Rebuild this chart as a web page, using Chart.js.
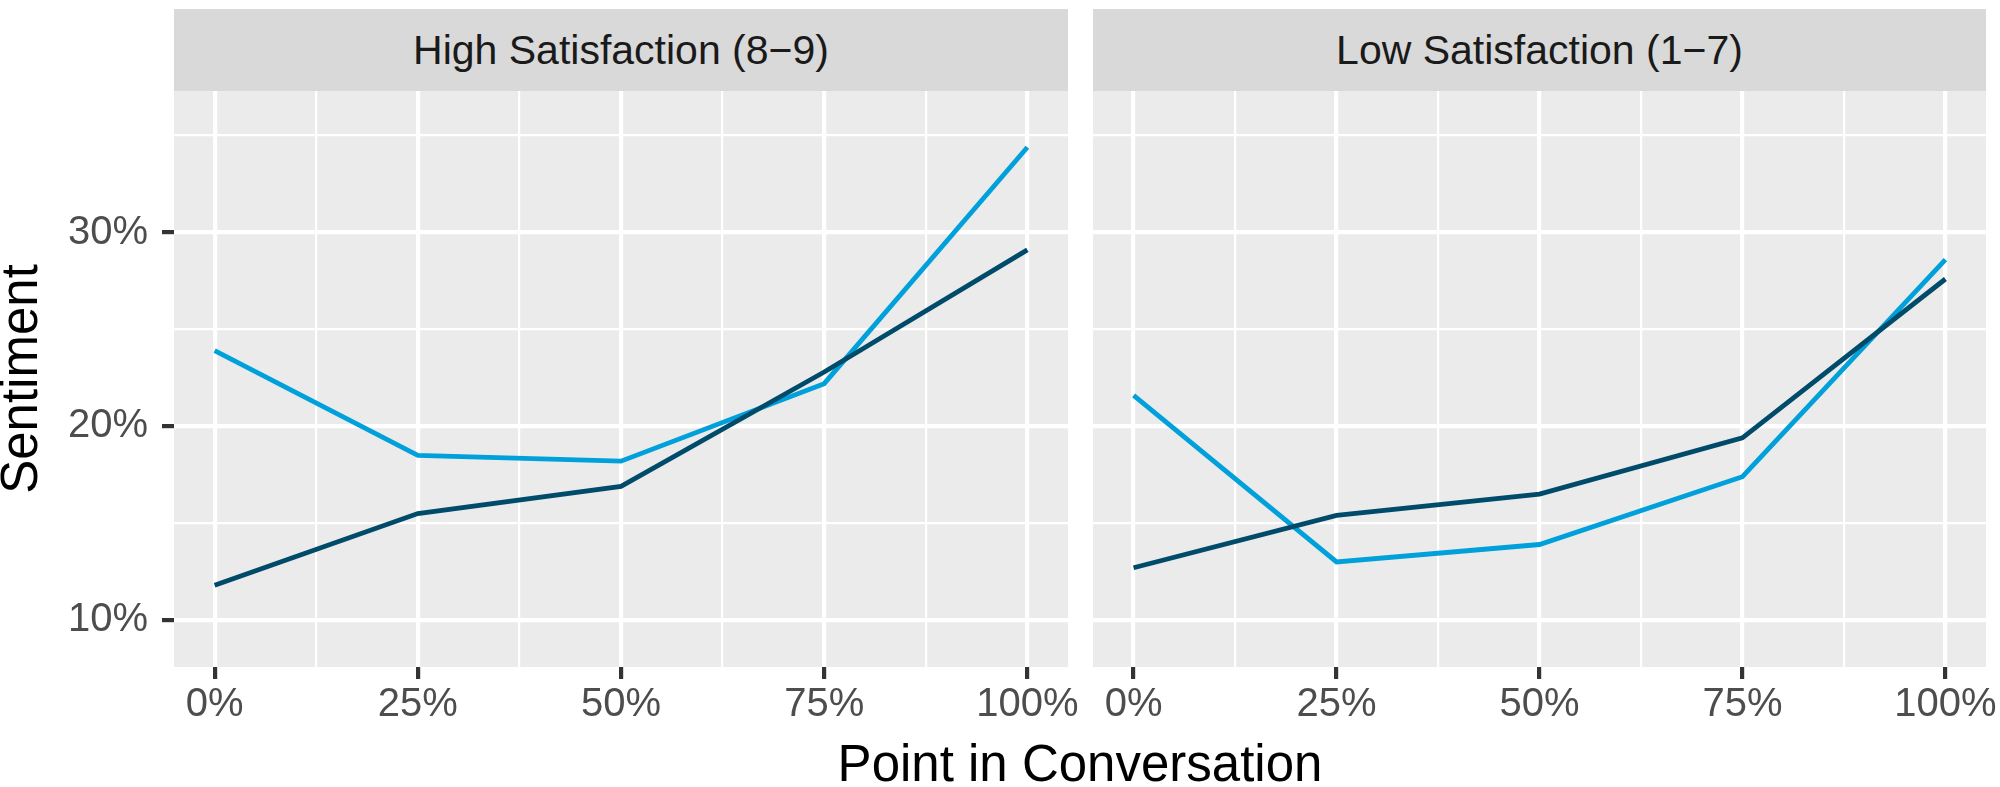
<!DOCTYPE html>
<html>
<head>
<meta charset="utf-8">
<script src="https://cdn.jsdelivr.net/npm/chart.js@4.4.1/dist/chart.umd.min.js"></script>
<style>
html,body{margin:0;padding:0;background:#fff;}
#wrap{position:relative;width:2000px;height:787px;overflow:hidden;font-family:"Liberation Sans",Arial,sans-serif;}
.strip{position:absolute;top:9px;height:82px;background:#D9D9D9;color:#1A1A1A;font-size:41px;display:flex;align-items:center;justify-content:center;}
canvas{position:absolute;}
#xtitle{position:absolute;left:174px;width:1812px;text-align:center;top:738px;font-size:51px;line-height:1;color:#000;}
</style>
</head>
<body>
<div id="wrap">
  <div class="strip" style="left:174px;width:894px;">High Satisfaction (8−9)</div>
  <div class="strip" style="left:1093px;width:893px;">Low Satisfaction (1−7)</div>
  <canvas id="left" width="1108" height="696" style="left:0;top:31px;"></canvas>
  <canvas id="right" width="917" height="696" style="left:1083px;top:31px;"></canvas>
  <div id="xtitle">Point in Conversation</div>
</div>
<script>
// ---- data ----
const categories = [0, 25, 50, 75, 100];            // point in conversation (%)
const highLight = [23.9, 18.5, 18.2, 22.2, 34.4];   // High Satisfaction, light blue series
const highDark  = [11.8, 15.5, 16.9, 22.8, 29.1];   // High Satisfaction, dark series
const lowLight  = [21.6, 13.0, 13.9, 17.4, 28.6];   // Low Satisfaction, light blue series
const lowDark   = [12.7, 15.4, 16.5, 19.4, 27.6];   // Low Satisfaction, dark series
const xBreaks = [0, 25, 50, 75, 100];
const xLabels = ['0%', '25%', '50%', '75%', '100%'];
const xMinor  = [12.5, 37.5, 62.5, 87.5];
const yBreaks = [10, 20, 30];
const yLabels = ['10%', '20%', '30%'];
const yMinor  = [15, 25, 35];

const LIGHT = '#00A1DB', DARK = '#004B6A';
const FONT = "'Liberation Sans', Arial, sans-serif";

const panelBg = {
  id: 'panelBg',
  beforeDraw(chart) {
    const a = chart.chartArea, c = chart.ctx;
    c.save(); c.fillStyle = '#EBEBEB';
    c.fillRect(a.left, a.top, a.right - a.left, a.bottom - a.top);
    c.restore();
  }
};

function pts(vals) { return categories.map((x, i) => ({x: x, y: vals[i]})); }

function makeChart(id, light, dark, showY) {
  const isMajorX = v => xBreaks.includes(v);
  const isMajorY = v => yBreaks.includes(v);
  return new Chart(document.getElementById(id), {
    type: 'line',
    data: {
      datasets: [
        {label: 'dark', data: pts(dark), borderColor: DARK, borderWidth: 4.8, pointRadius: 0, tension: 0, order: 1},
        {label: 'light', data: pts(light), borderColor: LIGHT, borderWidth: 4.8, pointRadius: 0, tension: 0, order: 2}
      ]
    },
    options: {
      responsive: false,
      devicePixelRatio: 1,
      animation: false,
      layout: {padding: showY ? {top: 60, bottom: 0, left: 0, right: 40} : {top: 60, bottom: 0, left: 10, right: 14}},
      plugins: {legend: {display: false}, tooltip: {enabled: false}},
      scales: {
        x: {
          type: 'linear', min: -5, max: 105,
          afterBuildTicks: s => { s.ticks = xBreaks.concat(xMinor).sort((a, b) => a - b).map(v => ({value: v})); },
          afterFit: s => { s.height = 60; },
          border: {display: false},
          grid: {
            color: '#FFFFFF',
            lineWidth: ctx => isMajorX(ctx.tick.value) ? 4.2 : 2.2,
            tickLength: 12,
            tickColor: ctx => isMajorX(ctx.tick.value) ? '#333333' : 'rgba(0,0,0,0)',
            tickWidth: ctx => isMajorX(ctx.tick.value) ? 4.2 : 0
          },
          ticks: {
            autoSkip: false, maxRotation: 0, padding: 2,
            color: '#4D4D4D', font: {family: FONT, size: 40},
            callback: v => { const i = xBreaks.indexOf(v); return i >= 0 ? xLabels[i] : ''; }
          }
        },
        y: {
          type: 'linear', min: 7.58, max: 37.3,
          afterBuildTicks: s => { s.ticks = yBreaks.concat(yMinor).sort((a, b) => a - b).map(v => ({value: v})); },
          afterFit: s => { s.width = showY ? 174 : 0; },
          border: {display: false},
          title: showY ? {display: true, text: 'Sentiment', color: '#000000', font: {family: FONT, size: 51, lineHeight: 0.9}, padding: 0} : {display: false},
          grid: {
            color: '#FFFFFF',
            lineWidth: ctx => isMajorY(ctx.tick.value) ? 4.2 : 2.2,
            drawTicks: showY,
            tickLength: 12,
            tickColor: ctx => isMajorY(ctx.tick.value) ? '#333333' : 'rgba(0,0,0,0)',
            tickWidth: ctx => isMajorY(ctx.tick.value) ? 4.2 : 0
          },
          ticks: {
            display: showY, autoSkip: false, padding: 14,
            color: '#4D4D4D', font: {family: FONT, size: 40},
            callback: v => { const i = yBreaks.indexOf(v); return i >= 0 ? yLabels[i] : ''; }
          }
        }
      }
    },
    plugins: [panelBg]
  });
}

makeChart('left', highLight, highDark, true);
makeChart('right', lowLight, lowDark, false);
</script>
</body>
</html>
